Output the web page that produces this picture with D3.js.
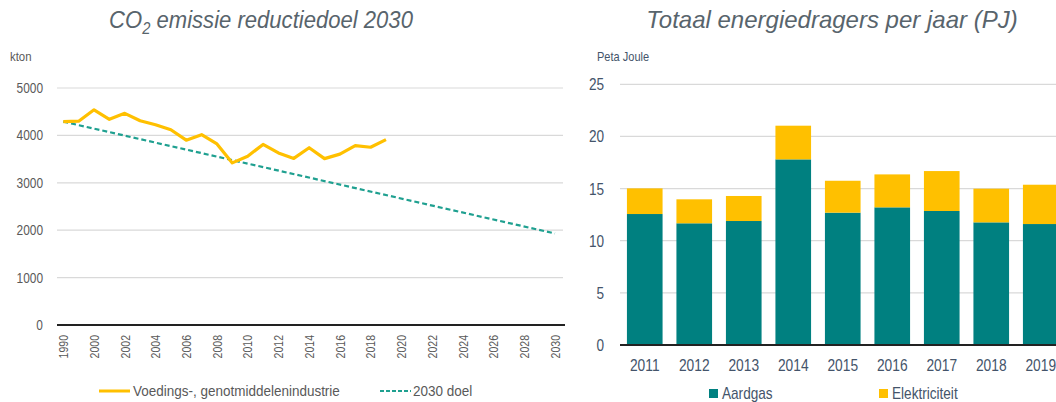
<!DOCTYPE html>
<html>
<head>
<meta charset="utf-8">
<script src="https://cdn.jsdelivr.net/npm/d3@7"></script>
<style>
  body { margin: 0; background: #fff; }
  svg { display: block; }
  text { font-family: "Liberation Sans", Arial, sans-serif; }
</style>
</head>
<body>
<svg id="grafiek" width="1056" height="402"></svg>
<script>
// links: CO2 uitstoot (kton)
var jaren = ["1990", "1995"];
for (var j = 2000; j <= 2030; j++) jaren.push(String(j));
var jaarLabels = ["1990", "2000", "2002", "2004", "2006", "2008", "2010", "2012", "2014", "2016", "2018", "2020", "2022", "2024", "2026", "2028", "2030"];
var uitstootJaren = ["1990", "1995", "2000", "2001", "2002", "2003", "2004", "2005", "2006", "2007", "2008", "2009", "2010", "2011", "2012", "2013", "2014", "2015", "2016", "2017", "2018", "2019"];
var uitstoot = [4290, 4300, 4540, 4340, 4465, 4310, 4225, 4120, 3900, 4015, 3820, 3420, 3560, 3810, 3630, 3515, 3740, 3510, 3605, 3785, 3750, 3910];
var doelJaren = ["1990", "2030"];
var doel = [4290, 1930];
var ktonTicks = [0, 1000, 2000, 3000, 4000, 5000];

// rechts: energiedragers (PJ)
var energieJaren = ["2011", "2012", "2013", "2014", "2015", "2016", "2017", "2018", "2019"];
var aardgas = [12.56, 11.67, 11.89, 17.8, 12.69, 13.2, 12.85, 11.76, 11.6];
var elektriciteit = [2.46, 2.3, 2.4, 3.23, 3.06, 3.16, 3.83, 3.23, 3.77];
var pjTicks = [0, 5, 10, 15, 20, 25];

var geel = "#FFC000";
var teal = "#008080";
var doelKleur = "#1FA090";
var grijs = "#D9D9D9";

var svg = d3.select("#grafiek");

// tekst iets smaller maken (het origineel is een smal lettertype)
function smal(x, y, sx, extra) {
    return "translate(" + x + "," + y + ")" + (extra || "") + " scale(" + sx + ",1)";
}

// ---------- linker grafiek ----------
var xL = d3.scalePoint().domain(jaren).range([63.3, 555]);
var yL = d3.scaleLinear().domain([0, 5000]).range([325, 88]);

svg.append("text")
    .attr("transform", smal(261, 28, 0.92))
    .attr("text-anchor", "middle")
    .attr("font-size", 24).attr("font-style", "italic")
    .attr("fill", "#58646C")
    .html('CO<tspan font-size="16" dy="6">2</tspan><tspan dy="-6"> emissie reductiedoel 2030</tspan>');

svg.append("text")
    .attr("transform", smal(10, 61, 0.95))
    .attr("font-size", 12).attr("fill", "#595959")
    .text("kton");

svg.append("g").selectAll("line")
    .data(ktonTicks.filter(function (d) { return d > 0; }))
    .join("line")
    .attr("x1", 57).attr("x2", 563)
    .attr("y1", function (d) { return yL(d); })
    .attr("y2", function (d) { return yL(d); })
    .attr("stroke", grijs).attr("stroke-width", 1.2);

svg.append("g").selectAll("text")
    .data(ktonTicks)
    .join("text")
    .attr("transform", function (d) { return smal(43, yL(d), 0.85); })
    .attr("dy", "0.35em")
    .attr("text-anchor", "end")
    .attr("font-size", 14).attr("fill", "#595959")
    .text(function (d) { return d; });

svg.append("line")
    .attr("x1", 57).attr("x2", 565)
    .attr("y1", yL(0)).attr("y2", yL(0))
    .attr("stroke", "#222").attr("stroke-width", 2);

svg.append("g").selectAll("text")
    .data(jaarLabels)
    .join("text")
    .attr("transform", function (d) { return smal(xL(d), 335, 0.78, " rotate(-90)"); })
    .attr("dy", "0.35em")
    .attr("text-anchor", "end")
    .attr("font-size", 13.5).attr("fill", "#595959")
    .text(function (d) { return d; });

var lijn = d3.line()
    .x(function (d) { return xL(d[0]); })
    .y(function (d) { return yL(d[1]); });

svg.append("path")
    .datum(d3.zip(doelJaren, doel))
    .attr("d", lijn)
    .attr("fill", "none")
    .attr("stroke", doelKleur).attr("stroke-width", 2.2)
    .attr("stroke-dasharray", "5,3");

svg.append("path")
    .datum(d3.zip(uitstootJaren, uitstoot))
    .attr("d", lijn)
    .attr("fill", "none")
    .attr("stroke", geel).attr("stroke-width", 3.2)
    .attr("stroke-linejoin", "round");

// legenda links
svg.append("line").attr("x1", 99).attr("x2", 130).attr("y1", 391).attr("y2", 391)
    .attr("stroke", geel).attr("stroke-width", 3);
svg.append("text").attr("transform", smal(133, 391, 0.9)).attr("dy", "0.35em")
    .attr("font-size", 15).attr("fill", "#595959")
    .text("Voedings-, genotmiddelenindustrie");
svg.append("line").attr("x1", 380).attr("x2", 411).attr("y1", 391).attr("y2", 391)
    .attr("stroke", doelKleur).attr("stroke-width", 2).attr("stroke-dasharray", "4,2");
svg.append("text").attr("transform", smal(413, 391, 0.9)).attr("dy", "0.35em")
    .attr("font-size", 15).attr("fill", "#595959")
    .text("2030 doel");

// ---------- rechter grafiek ----------
var xR = d3.scaleBand().domain(energieJaren).range([620, 1065.5]).paddingInner(0.28).paddingOuter(0.14);
var yR = d3.scaleLinear().domain([0, 25]).range([345, 84.3]);

svg.append("text")
    .attr("x", 832).attr("y", 28)
    .attr("text-anchor", "middle")
    .attr("font-size", 24).attr("font-style", "italic")
    .attr("fill", "#58646C")
    .text("Totaal energiedragers per jaar (PJ)");

svg.append("text")
    .attr("transform", smal(597, 61, 0.92))
    .attr("font-size", 12).attr("fill", "#44546A")
    .text("Peta Joule");

svg.append("g").selectAll("line")
    .data(pjTicks.filter(function (d) { return d > 0; }))
    .join("line")
    .attr("x1", 620).attr("x2", 1056)
    .attr("y1", function (d) { return yR(d); })
    .attr("y2", function (d) { return yR(d); })
    .attr("stroke", grijs).attr("stroke-width", 1.2);

svg.append("g").selectAll("text")
    .data(pjTicks)
    .join("text")
    .attr("transform", function (d) { return smal(604, yR(d), 0.8); })
    .attr("dy", "0.35em")
    .attr("text-anchor", "end")
    .attr("font-size", 17).attr("fill", "#44546A")
    .text(function (d) { return d; });

var stapels = energieJaren.map(function (jaar, i) {
    return { jaar: jaar, aardgas: aardgas[i], elektriciteit: elektriciteit[i] };
});
var reeksen = d3.stack().keys(["aardgas", "elektriciteit"])(stapels);
var kleuren = { aardgas: teal, elektriciteit: geel };

svg.append("g").selectAll("g")
    .data(reeksen)
    .join("g")
    .attr("fill", function (d) { return kleuren[d.key]; })
    .selectAll("rect")
    .data(function (d) { return d; })
    .join("rect")
    .attr("x", function (d) { return xR(d.data.jaar); })
    .attr("width", xR.bandwidth())
    .attr("y", function (d) { return yR(d[1]); })
    .attr("height", function (d) { return yR(d[0]) - yR(d[1]); });

svg.append("line")
    .attr("x1", 620).attr("x2", 1056)
    .attr("y1", yR(0)).attr("y2", yR(0))
    .attr("stroke", "#222").attr("stroke-width", 2);

svg.append("g").selectAll("text")
    .data(energieJaren)
    .join("text")
    .attr("transform", function (d) { return smal(xR(d) + xR.bandwidth() / 2, 371, 0.81); })
    .attr("text-anchor", "middle")
    .attr("font-size", 17).attr("fill", "#44546A")
    .text(function (d) { return d; });

// legenda rechts
svg.append("rect").attr("x", 709).attr("y", 389).attr("width", 9).attr("height", 9).attr("fill", teal);
svg.append("text").attr("transform", smal(722, 393.5, 0.85)).attr("dy", "0.35em")
    .attr("font-size", 16).attr("fill", "#44546A").text("Aardgas");
svg.append("rect").attr("x", 879).attr("y", 389).attr("width", 9).attr("height", 9).attr("fill", geel);
svg.append("text").attr("transform", smal(892, 393.5, 0.85)).attr("dy", "0.35em")
    .attr("font-size", 16).attr("fill", "#44546A").text("Elektriciteit");
</script>
</body>
</html>
